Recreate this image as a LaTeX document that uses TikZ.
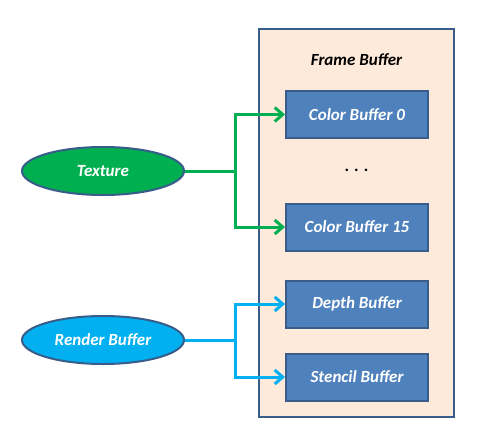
\documentclass[tikz,border=0pt]{standalone}
\usepackage{fontspec}
\setmainfont{Carlito}
\usetikzlibrary{arrows.meta,shapes.geometric}
\definecolor{gfill}{HTML}{00B050}
\definecolor{bfill}{HTML}{00B0F0}
\definecolor{boxfill}{HTML}{4F81BD}
\definecolor{edge}{HTML}{385D8A}
\definecolor{framefill}{HTML}{FDEADA}
\tikzset{
  lbl/.style={font=\fontsize{17}{19}\selectfont\bfseries\itshape},
  bufbox/.style={lbl, draw=edge, line width=2pt, fill=boxfill, minimum width=142pt, minimum height=47pt, inner sep=0pt, text=white},
  src/.style={lbl, ellipse, draw=edge, line width=2pt, minimum width=162pt, minimum height=48pt, inner sep=0pt, text=white},
  gconn/.style={draw=gfill, line width=3pt, -{Straight Barb[length=8pt,width=14pt,line width=3pt]}},
  bconn/.style={draw=bfill, line width=3pt, -{Straight Barb[length=8pt,width=14pt,line width=3pt]}},
  gline/.style={draw=gfill, line width=3pt},
  bline/.style={draw=bfill, line width=3pt},
}
\begin{document}
\begin{tikzpicture}[x=1pt,y=-1pt]
\useasboundingbox (0,0) rectangle (484,442);
\node[draw=edge, line width=2pt, fill=framefill, minimum width=195pt, minimum height=388pt, inner sep=0pt] (frame) at (356.5,222.5) {};
\node[lbl] (title) at (356.5,60) {Frame Buffer};
\node[font=\fontsize{17}{19}\selectfont\bfseries] (dots) at (356.5,170) {.\hspace{5pt}.\hspace{5pt}.};
\node[bufbox] (cb0) at (357,114.5) {Color Buffer 0};
\node[bufbox] (cb15) at (357,227) {Color Buffer 15};
\node[bufbox] (depth) at (357,304) {Depth Buffer};
\node[bufbox] (stencil) at (357,377) {Stencil Buffer};
\node[src, fill=gfill] (tex) at (103,171) {Texture};
\node[src, fill=bfill] (rb) at (103,340) {Render Buffer};
\coordinate (jg) at (235,171);
\coordinate (jb) at (235,340);
\draw[gline] (tex.east) -- (jg);
\draw[gconn] (jg) |- (cb0.west);
\draw[gconn] (jg) |- (cb15.west);
\draw[bline] (rb.east) -- (jb);
\draw[bconn] (jb) |- (depth.west);
\draw[bconn] (jb) |- (stencil.west);
\end{tikzpicture}
\end{document}
